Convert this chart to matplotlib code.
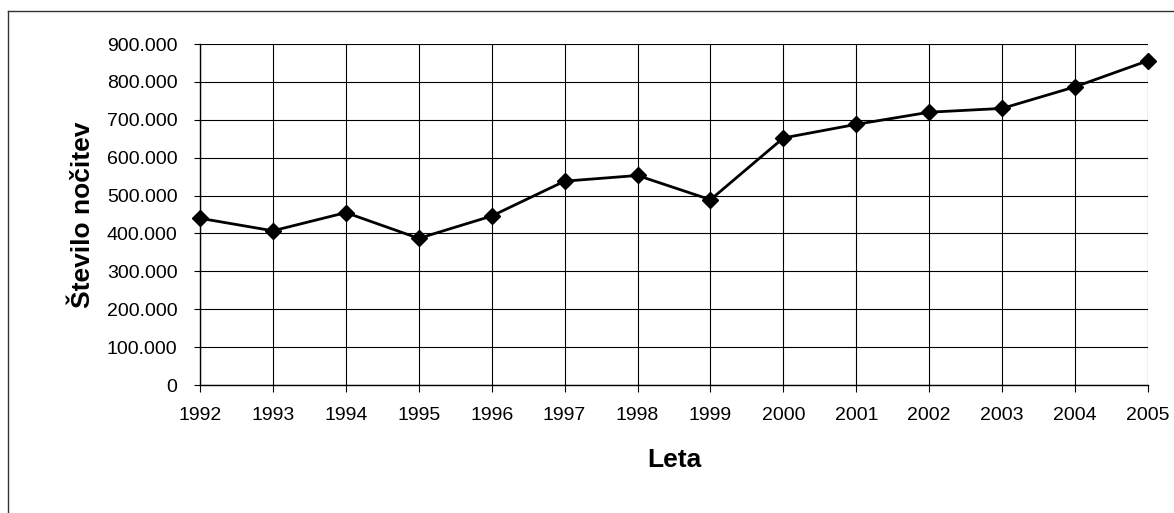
import matplotlib.pyplot as plt
from matplotlib.lines import Line2D
from matplotlib.ticker import FuncFormatter

years = [1992, 1993, 1994, 1995, 1996, 1997, 1998, 1999,
         2000, 2001, 2002, 2003, 2004, 2005]
loans = [440000, 407000, 455000, 387000, 446000, 538000, 553000, 489000,
         652000, 688000, 720000, 730000, 787000, 856000]
y_ticks = list(range(0, 900001, 100000))

plt.rcParams['font.family'] = ['Liberation Sans', 'DejaVu Sans']

fig = plt.figure(figsize=(11.74, 5.13), dpi=100)
W, H = 1174, 513
ax = fig.add_axes([200 / W, 1 - 385 / H, 948 / W, 341 / H])

ax.plot(years, loans, color='black', linewidth=2.0, marker='D',
        markersize=8, markerfacecolor='black', markeredgecolor='black',
        zorder=3, clip_on=False)

ax.set_xlim(years[0], years[-1])
ax.set_ylim(0, 900000)
ax.set_xticks(years)
ax.set_yticks(y_ticks)


def thousands(v, pos):
    if v == 0:
        return "0"
    return "{:,.0f}".format(v).replace(",", ".")


ax.yaxis.set_major_formatter(FuncFormatter(thousands))
ax.grid(True, color='black', linewidth=0.8)
ax.tick_params(axis='both', labelsize=14, color='black', width=0.8)
ax.tick_params(axis='x', length=5, pad=11)
ax.tick_params(axis='y', length=4.3, pad=12)
for side in ['top', 'right']:
    ax.spines[side].set_visible(False)
for side in ['left', 'bottom']:
    ax.spines[side].set_linewidth(1.0)

ax.set_xlabel("Leta", fontsize=19, fontweight='bold', labelpad=17)
ax.set_ylabel("Število nočitev", fontsize=19, fontweight='bold', labelpad=8)

# outer chart frame (only left and top visible in the crop)
fig.add_artist(Line2D([8 / W, 8 / W], [0, 1 - 11 / H], color='#333333', linewidth=1.0))
fig.add_artist(Line2D([8 / W, 1], [1 - 11 / H, 1 - 11 / H], color='#333333', linewidth=1.0))

fig.savefig("out.png", dpi=100)
